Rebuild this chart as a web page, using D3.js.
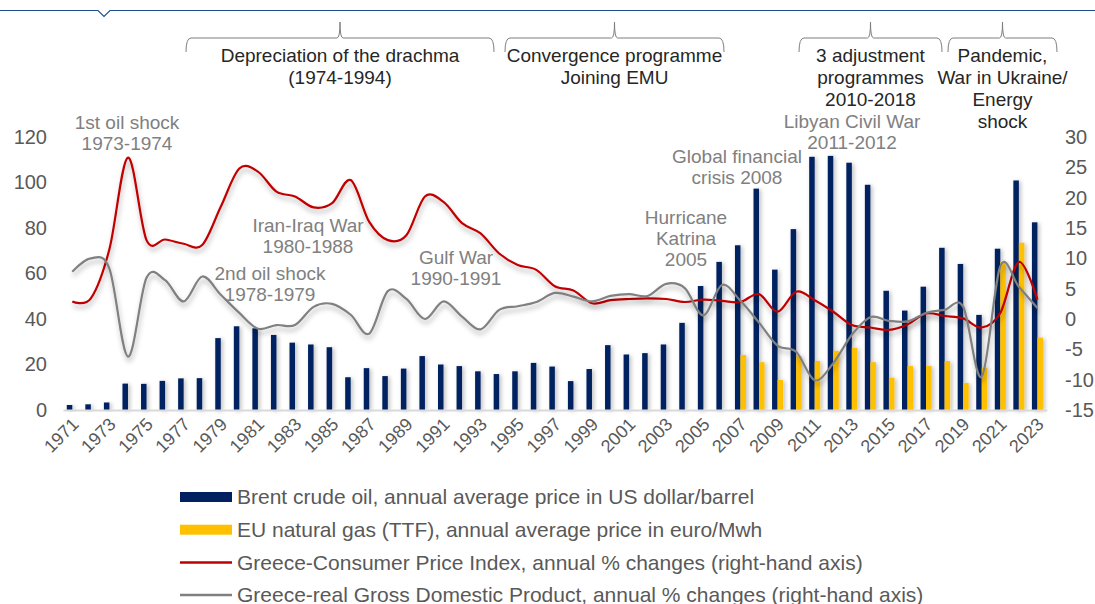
<!DOCTYPE html>
<html>
  <head>
    <meta charset="utf-8">
    <script src="https://d3js.org/d3.v7.min.js"></script>
  </head>
  <style>
    body { margin: 0; background: #fff; }
    text { font-family: "Liberation Sans", Arial, sans-serif; }
  </style>
  <body>
    <svg width="1095" height="604"></svg>
    <script>
      // data
      var years = d3.range(1971, 2024);

      var brent = [2.2, 2.5, 3.3, 11.6, 11.5, 12.8, 13.9, 14.0, 31.6, 36.8,
        35.9, 33.0, 29.6, 28.8, 27.6, 14.4, 18.4, 14.9, 18.2, 23.7,
        20.0, 19.3, 17.0, 15.8, 17.0, 20.7, 19.1, 12.7, 18.0, 28.5,
        24.4, 25.0, 28.8, 38.3, 54.5, 65.1, 72.4, 97.3, 61.7, 79.5,
        111.3, 111.7, 108.7, 99.0, 52.4, 43.7, 54.2, 71.3, 64.2, 41.8,
        70.9, 100.9, 82.5];

      // TTF gas only from 2007
      var gasYears = d3.range(2007, 2024);
      var gas = [24.2, 21.0, 13.2, 23.7, 21.5, 26.0, 27.3, 21.0, 14.2, 19.3,
        19.3, 21.5, 11.9, 18.6, 65.2, 73.5, 31.8];

      var cpi = [2.9, 3.4, 11.5, 26.6, 13.0, 13.1, 12.4, 12.2, 18.5, 24.8,
        24.3, 21.0, 20.2, 18.4, 19.1, 22.9, 16.0, 13.0, 13.8, 20.2,
        19.3, 15.8, 14.1, 10.8, 8.9, 8.1, 5.4, 4.7, 2.6, 3.1,
        3.3, 3.4, 3.3, 2.8, 3.2, 3.0, 2.8, 4.1, 1.2, 4.5,
        3.1, 1.2, -1.0, -1.4, -1.8, -0.9, 0.9, 0.5, 0.1, -1.4,
        1.0, 9.4, 3.2];

      var gdp = [7.8, 10.0, 8.3, -6.2, 6.8, 6.4, 2.9, 7.0, 4.0, 1.0,
        -1.6, -1.0, -1.0, 2.0, 2.5, 0.7, -2.4, 4.6, 3.3, 0.0,
        2.9, 0.4, -1.7, 1.5, 2.1, 2.8, 4.3, 3.7, 2.9, 3.8,
        4.1, 3.8, 5.8, 5.1, 0.6, 5.6, 3.0, -0.6, -4.4, -5.4,
        -10.1, -7.3, -2.6, 0.3, -0.3, -0.4, 1.0, 1.5, 2.0, -9.5,
        8.7, 5.3, 1.8];

      var leftTicks = [0, 20, 40, 60, 80, 100, 120];
      var rightTicks = [-15, -10, -5, 0, 5, 10, 15, 20, 25, 30];
      var xTicks = years.filter(function (d) { return d % 2 === 1; });

      var periods = [
        { from: 186, to: 494, lines: ["Depreciation of the drachma", "(1974-1994)"] },
        { from: 505, to: 724, lines: ["Convergence programme", "Joining EMU"] },
        { from: 799, to: 942, lines: ["3 adjustment", "programmes", "2010-2018"] },
        { from: 948, to: 1057, lines: ["Pandemic,", "War in Ukraine/", "Energy", "shock"] }
      ];

      var events = [
        { x: 127, y: 129, lines: ["1st oil shock", "1973-1974"] },
        { x: 308, y: 232, lines: ["Iran-Iraq War", "1980-1988"] },
        { x: 270, y: 280, lines: ["2nd oil shock", "1978-1979"] },
        { x: 456, y: 264, lines: ["Gulf War", "1990-1991"] },
        { x: 686, y: 224, lines: ["Hurricane", "Katrina", "2005"] },
        { x: 737, y: 163, lines: ["Global financial", "crisis 2008"] },
        { x: 852, y: 128, lines: ["Libyan Civil War", "2011-2012"] }
      ];

      var legendItems = [
        { label: "Brent crude oil, annual average price in US dollar/barrel", color: "#002060", type: "bar" },
        { label: "EU natural gas (TTF), annual average price in euro/Mwh", color: "#FFC000", type: "bar" },
        { label: "Greece-Consumer Price Index, annual % changes (right-hand axis)", color: "#C00000", type: "line" },
        { label: "Greece-real Gross Domestic Product, annual % changes (right-hand axis)", color: "#808080", type: "line" }
      ];

      var svg = d3.select("svg");

      var defs = svg.append("defs");
      var f1 = defs.append("filter").attr("id", "shadowBar")
        .attr("x", "-50%").attr("y", "-10%").attr("width", "250%").attr("height", "130%");
      f1.append("feDropShadow").attr("dx", 2).attr("dy", 1).attr("stdDeviation", 2)
        .attr("flood-color", "#000").attr("flood-opacity", 0.25);
      var f2 = defs.append("filter").attr("id", "shadowLine")
        .attr("x", "-5%").attr("y", "-20%").attr("width", "110%").attr("height", "150%");
      f2.append("feDropShadow").attr("dx", 1).attr("dy", 4).attr("stdDeviation", 2.5)
        .attr("flood-color", "#000").attr("flood-opacity", 0.3);

      // top rule with notch
      svg.append("path")
        .attr("d", "M0,10.5H98L104,16.5L110,10.5H1095")
        .style("fill", "none")
        .style("stroke", "#1F4E8C")
        .style("stroke-width", 1.2);

      // scales
      var x = d3.scaleBand().domain(years).range([63, 1046.7]);
      var bw = x.bandwidth();
      var cx = function (yr) { return x(yr) + bw / 2; };
      var yL = d3.scaleLinear().domain([0, 120]).range([410, 137]);
      var yR = d3.scaleLinear().domain([-15, 30]).range([410, 137]);
      var barW = 5.5;
      var plain = function (d) { return String(d); };

      // axes
      var gL = svg.append("g").attr("transform", "translate(51,0)")
        .call(d3.axisLeft(yL).tickValues(leftTicks).tickFormat(plain).tickSize(0).tickPadding(4));
      gL.select(".domain").remove();
      gL.selectAll("text").style("font-size", "20px").style("fill", "#595959")
        .style("font-family", "Liberation Sans, Arial, sans-serif");

      var gR = svg.append("g").attr("transform", "translate(1060,0)")
        .call(d3.axisRight(yR).tickValues(rightTicks).tickFormat(plain).tickSize(0).tickPadding(5));
      gR.select(".domain").remove();
      gR.selectAll("text").style("font-size", "20px").style("fill", "#595959")
        .style("font-family", "Liberation Sans, Arial, sans-serif");

      // bars
      svg.append("g").selectAll("rect")
        .data(years)
        .enter()
        .append("rect")
        .attr("x", function (d) { return cx(d) - barW; })
        .attr("y", function (d, i) { return yL(brent[i]); })
        .attr("width", barW)
        .attr("height", function (d, i) { return yL(0) - yL(brent[i]); })
        .attr("filter", "url(#shadowBar)")
        .style("fill", "#002060");

      svg.append("g").selectAll("rect")
        .data(gasYears)
        .enter()
        .append("rect")
        .attr("x", function (d) { return cx(d); })
        .attr("y", function (d, i) { return yL(gas[i]); })
        .attr("width", barW)
        .attr("height", function (d, i) { return yL(0) - yL(gas[i]); })
        .attr("filter", "url(#shadowBar)")
        .style("fill", "#FFC000");

      // x axis
      var gX = svg.append("g").attr("transform", "translate(0,410)")
        .call(d3.axisBottom(x).tickValues(xTicks).tickSize(0));
      gX.select(".domain").style("stroke", "#D9D9D9").style("stroke-width", 2);
      gX.selectAll("text")
        .style("font-size", "18px").style("fill", "#595959")
        .style("font-family", "Liberation Sans, Arial, sans-serif")
        .attr("text-anchor", "end")
        .attr("y", 0).attr("dy", "0.35em")
        .attr("transform", "translate(3,11) rotate(-45)");

      // lines
      var line = d3.line()
        .x(function (d) { return cx(d[0]); })
        .y(function (d) { return yR(d[1]); })
        .curve(d3.curveCatmullRom.alpha(0));

      svg.append("path")
        .datum(d3.zip(years, cpi))
        .attr("d", line)
        .attr("filter", "url(#shadowLine)")
        .style("fill", "none")
        .style("stroke", "#C00000")
        .style("stroke-width", 2.2);

      svg.append("path")
        .datum(d3.zip(years, gdp))
        .attr("d", line)
        .attr("filter", "url(#shadowLine)")
        .style("fill", "none")
        .style("stroke", "#808080")
        .style("stroke-width", 2.2);

      // period brackets
      periods.forEach(function (p) {
        var mid = (p.from + p.to) / 2;
        svg.append("path")
          .attr("d", "M" + p.from + ",52 Q" + p.from + ",38 " + (p.from + 5) + ",38 H" + (mid - 3) +
            " Q" + mid + ",38 " + mid + ",22 Q" + mid + ",38 " + (mid + 3) + ",38 H" + (p.to - 5) +
            " Q" + p.to + ",38 " + p.to + ",52")
          .style("fill", "none")
          .style("stroke", "#7F7F7F")
          .style("stroke-width", 1);
        p.lines.forEach(function (t, i) {
          svg.append("text")
            .attr("x", mid)
            .attr("y", 62 + i * 22)
            .attr("text-anchor", "middle")
            .style("font-size", "19px")
            .style("fill", "#262626")
            .text(t);
        });
      });

      // event annotations
      events.forEach(function (e) {
        e.lines.forEach(function (t, i) {
          svg.append("text")
            .attr("x", e.x)
            .attr("y", e.y + i * 21)
            .attr("text-anchor", "middle")
            .style("font-size", "19px")
            .style("fill", "#808080")
            .text(t);
        });
      });

      // legend
      var lg = svg.append("g");
      legendItems.forEach(function (d, i) {
        var yy = 497 + i * 32.7;
        if (d.type === "bar") {
          lg.append("rect").attr("x", 180).attr("y", yy - 5).attr("width", 52).attr("height", 10)
            .style("fill", d.color);
        } else {
          lg.append("line").attr("x1", 180).attr("x2", 232).attr("y1", yy).attr("y2", yy)
            .style("stroke", d.color).style("stroke-width", 2.5);
        }
        lg.append("text")
          .attr("x", 237)
          .attr("y", yy)
          .attr("dy", "0.35em")
          .style("font-size", "21px")
          .style("fill", "#595959")
          .text(d.label);
      });
    </script>
  </body>
</html>
